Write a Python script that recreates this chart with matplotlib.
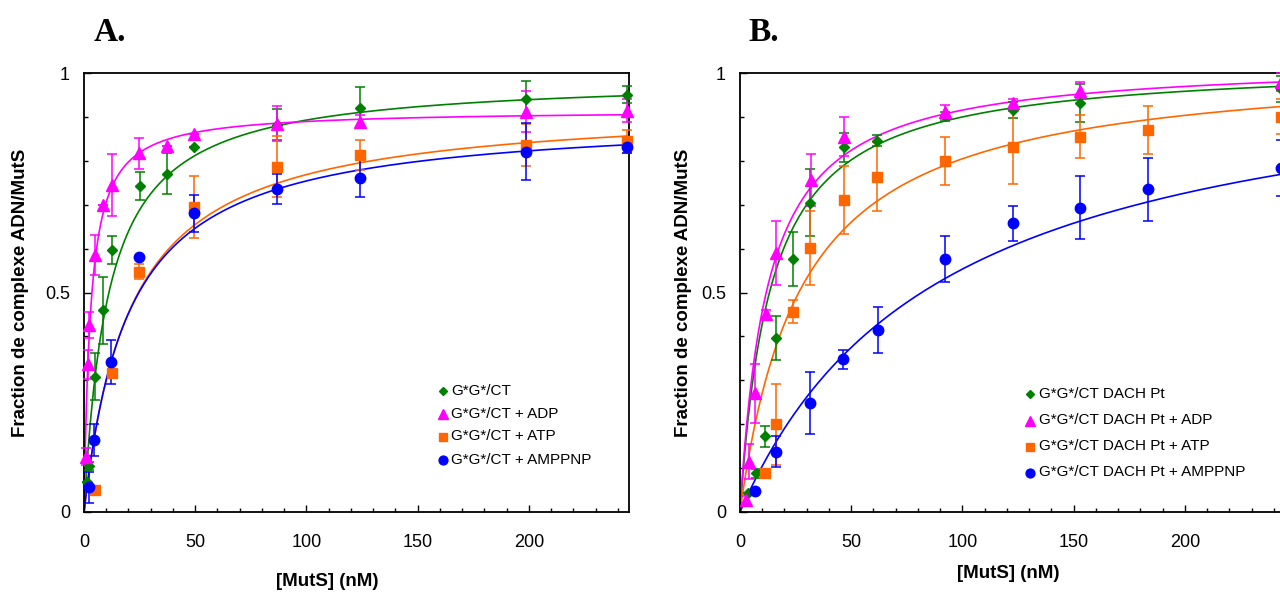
import numpy as np
import matplotlib.pyplot as plt
from matplotlib.ticker import MultipleLocator

plt.rcParams['font.family'] = ['Liberation Sans', 'DejaVu Sans']

# ── Panel A data (G*G*/CT) ────────────────────────────────────────────────────
a_green_x = [1.5, 2.4, 4.9, 8.6, 12.4, 25, 37.2, 49.6, 86.6, 124, 198.5, 244]
a_green_y = [0.069, 0.105, 0.308, 0.459, 0.597, 0.743, 0.771, 0.831, 0.882, 0.921, 0.941, 0.951]
a_green_e = [0.0, 0.01, 0.054, 0.077, 0.032, 0.032, 0.046, 0.0, 0.035, 0.046, 0.04, 0.02]

a_mag_x = [0.9, 1.9, 2.4, 4.9, 8.4, 12.4, 24.8, 37.2, 49.6, 86.6, 124, 198.5, 244]
a_mag_y = [0.126, 0.337, 0.426, 0.585, 0.699, 0.745, 0.817, 0.834, 0.861, 0.884, 0.889, 0.912, 0.914]
a_mag_e = [0.02, 0.033, 0.03, 0.046, 0.0, 0.07, 0.035, 0.0, 0.0, 0.04, 0.015, 0.046, 0.026]

a_orange_x = [4.9, 12.4, 24.8, 49.6, 86.6, 124, 198.5, 244]
a_orange_y = [0.049, 0.316, 0.547, 0.695, 0.787, 0.813, 0.836, 0.844]
a_orange_e = [0.0, 0.0, 0.017, 0.071, 0.07, 0.034, 0.047, 0.027]

a_blue_x = [2.4, 4.7, 12.1, 24.8, 49.6, 86.6, 124, 198.5, 244]
a_blue_y = [0.056, 0.164, 0.342, 0.580, 0.680, 0.736, 0.760, 0.821, 0.831]
a_blue_e = [0.035, 0.036, 0.05, 0.0, 0.042, 0.035, 0.042, 0.065, 0.013]

# hyperbolic fits (Bmax, Kd) per series
a_fit_bmax = [0.991, 0.916, 0.93, 0.905]
a_fit_kd = [11.0, 2.97, 21.0, 20.0]

# ── Panel B data (G*G*/CT DACH Pt) ───────────────────────────────────────────
b_green_x = [3.6, 7.0, 11.4, 16.1, 23.9, 31.4, 46.6, 61.7, 92.2, 122.7, 153, 243]
b_green_y = [0.043, 0.088, 0.172, 0.396, 0.576, 0.705, 0.831, 0.846, 0.901, 0.916, 0.932, 0.963]
b_green_e = [0.0, 0.01, 0.025, 0.05, 0.062, 0.076, 0.033, 0.012, 0.01, 0.019, 0.044, 0.03]

b_mag_x = [2.9, 3.9, 6.9, 11.6, 16.1, 31.7, 46.6, 92.2, 122.7, 153, 243]
b_mag_y = [0.027, 0.115, 0.270, 0.450, 0.591, 0.756, 0.855, 0.911, 0.931, 0.960, 0.98]
b_mag_e = [0.01, 0.04, 0.068, 0.01, 0.073, 0.06, 0.045, 0.015, 0.01, 0.02, 0.02]

b_orange_x = [11.4, 16.1, 23.9, 31.4, 46.6, 61.7, 92.2, 122.7, 153, 183.5, 243]
b_orange_y = [0.088, 0.200, 0.456, 0.601, 0.711, 0.764, 0.800, 0.831, 0.855, 0.870, 0.90]
b_orange_e = [0.0, 0.092, 0.026, 0.085, 0.077, 0.078, 0.054, 0.083, 0.049, 0.055, 0.04]

b_blue_x = [6.9, 16.1, 31.5, 46.4, 61.9, 92.2, 122.7, 153, 183.5, 243]
b_blue_y = [0.048, 0.137, 0.249, 0.348, 0.415, 0.576, 0.658, 0.693, 0.735, 0.784]
b_blue_e = [0.005, 0.035, 0.071, 0.022, 0.052, 0.052, 0.04, 0.072, 0.072, 0.064]

b_fit_bmax = [1.025, 1.03, 1.03, 1.057]
b_fit_kd = [13.9, 12.5, 28.0, 91.0]

a_labels = ["G*G*/CT", "G*G*/CT + ADP", "G*G*/CT + ATP", "G*G*/CT + AMPPNP"]
b_labels = ["G*G*/CT DACH Pt", "G*G*/CT DACH Pt + ADP",
            "G*G*/CT DACH Pt + ATP", "G*G*/CT DACH Pt + AMPPNP"]

colors = ["#008000", "#FF00FF", "#FF6600", "#0000FF"]
markers = ["D", "^", "s", "o"]
msizes = [5, 8.5, 7.5, 7.5]
XMAX = 245

W, H = 1280, 593


def _style_axis(ax):
    ax.set_xlim(0, XMAX)
    ax.set_ylim(0, 1)
    ax.set_xticks([0, 50, 100, 150, 200])
    ax.xaxis.set_minor_locator(MultipleLocator(10))
    ax.set_yticks([0, 0.5, 1])
    ax.set_yticklabels(["0", "0.5", "1"])
    ax.yaxis.set_minor_locator(MultipleLocator(0.1))
    ax.tick_params(which="both", direction="in", labelsize=13, width=1)
    ax.tick_params(which="major", length=5)
    ax.tick_params(which="minor", length=3)
    ax.tick_params(axis="x", pad=15.5)
    ax.tick_params(axis="y", pad=10)
    for s in ax.spines.values():
        s.set_linewidth(1.3)


def _draw_panel(ax, series, bmax, kd):
    xs = np.linspace(0, XMAX, 400)
    for i, (x, y, e) in enumerate(series):
        ax.plot(xs, bmax[i] * xs / (kd[i] + xs), color=colors[i], lw=1.2, zorder=2)
        ax.errorbar(x, y, yerr=e, fmt=markers[i], color=colors[i], ms=msizes[i],
                    ecolor=colors[i], elinewidth=1.1, capsize=3.5, capthick=1.1,
                    zorder=3, clip_on=False)


def _legend(fig, labels, mx, tx, ys):
    for i, lab in enumerate(labels):
        fig.lines.append(plt.Line2D([mx / W], [1 - ys[i] / H], transform=fig.transFigure,
                                    marker=markers[i], ms=msizes[i] * 0.85, color=colors[i],
                                    linestyle="none"))
        fig.text(tx / W, 1 - ys[i] / H, lab, fontsize=11, va="center", ha="left")


fig = plt.figure(figsize=(W / 100, H / 100), dpi=100)
axA = fig.add_axes([84 / W, (H - 512) / H, 545 / W, 439 / H])
axB = fig.add_axes([740 / W, (H - 512) / H, 545 / W, 439 / H])

for ax in (axA, axB):
    _style_axis(ax)

_draw_panel(axA, [(a_green_x, a_green_y, a_green_e), (a_mag_x, a_mag_y, a_mag_e),
                  (a_orange_x, a_orange_y, a_orange_e), (a_blue_x, a_blue_y, a_blue_e)],
            a_fit_bmax, a_fit_kd)
_draw_panel(axB, [(b_green_x, b_green_y, b_green_e), (b_mag_x, b_mag_y, b_mag_e),
                  (b_orange_x, b_orange_y, b_orange_e), (b_blue_x, b_blue_y, b_blue_e)],
            b_fit_bmax, b_fit_kd)

_legend(fig, a_labels, 443, 451, [391, 413.5, 436.5, 459.5])
_legend(fig, b_labels, 1030, 1039, [394, 420.5, 446.5, 472.5])

# axis labels
for cx in (21, 683):
    fig.text(cx / W, 1 - 293 / H, "Fraction de complexe ADN/MutS", rotation=90,
             fontsize=13.5, fontweight="bold", ha="center", va="center")
fig.text(327 / W, 1 - 582 / H, "[MutS] (nM)", fontsize=13.5, fontweight="bold",
         ha="center", va="center")
fig.text(1008 / W, 1 - 574 / H, "[MutS] (nM)", fontsize=13.5, fontweight="bold",
         ha="center", va="center")

# panel letters
fig.text(94 / W, 1 - 41 / H, "A.", family="Liberation Serif", fontsize=24,
         fontweight="bold", ha="left", va="baseline")
fig.text(748 / W, 1 - 41 / H, "B.", family="Liberation Serif", fontsize=24,
         fontweight="bold", ha="left", va="baseline")

fig.savefig("out.png", dpi=100)
